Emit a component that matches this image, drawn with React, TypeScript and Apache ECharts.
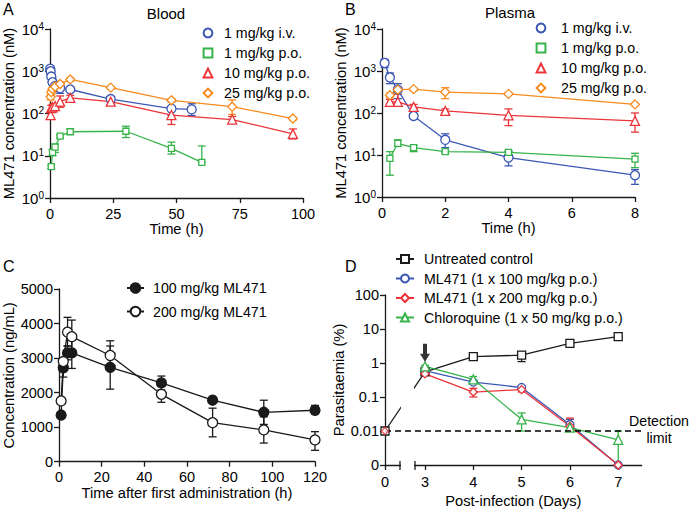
import React, { useEffect, useRef } from 'react';
import * as echarts from 'echarts';

// ---------- Panel A: Blood ----------
const bloodIvT = [0.083, 0.25, 0.5, 1, 2, 4, 8, 24, 48, 56];
const bloodIv = [1150, 1000, 750, 550, 450, 400, 370, 220, 130, 125];
const bloodIvLo = [950, 850, 560, 380, 330, 300, 330, 190, 90, 90];
const bloodIvHi = [1300, 1150, 950, 700, 560, 520, 420, 250, 190, 170];

const bloodPo1T = [0.5, 1, 2, 4, 8, 30, 48, 60];
const bloodPo1 = [5.5, 12, 16, 29, 37, 38, 15, 7];
const bloodPo1Lo = [5, 10, 12, 27, 32, 27, 11, 7];
const bloodPo1Hi = [6, 14, 19, 31, 43, 50, 21, 17];

const bloodPo10T = [0.25, 0.5, 1, 2, 4, 8, 24, 48, 72, 96];
const bloodPo10 = [92, 135, 140, 150, 190, 235, 190, 92, 72, 33];
const bloodPo10Lo = [75, 120, 125, 120, 140, 200, 165, 55, 60, 25];
const bloodPo10Hi = [110, 155, 165, 170, 260, 270, 230, 140, 85, 43];

const bloodPo25T = [0.25, 0.5, 1, 2, 4, 8, 24, 48, 72, 96];
const bloodPo25 = [250, 320, 380, 430, 500, 640, 410, 205, 145, 76];
const bloodPo25Lo = [210, 280, 340, 390, 450, 590, 380, 190, 95, 70];
const bloodPo25Hi = [270, 360, 420, 470, 560, 700, 430, 225, 210, 80];

// ---------- Panel B: Plasma ----------
const plasmaIvT = [0.083, 0.25, 0.5, 1, 2, 4, 8];
const plasmaIv = [1550, 700, 360, 85, 23, 8.7, 3.3];
const plasmaIvLo = [1200, 500, 220, 75, 15, 5.5, 2];
const plasmaIvHi = [1900, 900, 500, 95, 32, 12, 4.5];

const plasmaPoT = [0.25, 0.5, 1, 2, 4, 8];
const plasmaPo1 = [8.3, 19, 15, 12, 11.5, 8];
const plasmaPo1Lo = [3.3, 16, 12, 11, 10, 5];
const plasmaPo1Hi = [12, 23, 17, 12.5, 12.5, 11];
const plasmaPo10 = [185, 185, 140, 112, 88, 65];
const plasmaPo10Lo = [170, 170, 125, 100, 50, 35];
const plasmaPo10Hi = [210, 280, 160, 125, 125, 100];
const plasmaPo25 = [265, 360, 370, 315, 285, 160];
const plasmaPo25Lo = [230, 330, 340, 220, 270, 150];
const plasmaPo25Hi = [300, 400, 390, 400, 310, 170];

// ---------- Panel C ----------
const cTime = [1, 2, 4, 6, 24, 48, 72, 96, 120];
const c100 = [1350, 2720, 3150, 3150, 2730, 2280, 1780, 1430, 1490];
const c100Lo = [1300, 2450, 2950, 2700, 2100, 2080, 1720, 1080, 1380];
const c100Hi = [1400, 2950, 3350, 3600, 3350, 2480, 1840, 1780, 1630];
const c200 = [1760, 2900, 3750, 3620, 3075, 1950, 1130, 920, 630];
const c200Lo = [1700, 2850, 3350, 3150, 2650, 1720, 720, 540, 330];
const c200Hi = [1820, 2950, 4180, 4100, 3500, 2180, 1550, 1300, 870];

// ---------- Panel D ----------
const dCtrlDays = [0, 3, 4, 5, 6, 7];
const dCtrl = [0.01, 0.55, 1.55, 1.7, 3.8, 6.0];
const dCtrlLo = [0.01, 0.5, 1.45, 1.1, 3.6, 5.7];
const dCtrlHi = [0.01, 0.6, 1.65, 2.1, 4.0, 6.3];
const dTreatDays = [3, 4, 5, 6, 7];
const dMl100 = [0.6, 0.275, 0.19, 0.0155, 0];
const dMl100Lo = [0.55, 0.25, 0.17, 0.011, 0];
const dMl100Hi = [0.65, 0.3, 0.21, 0.022, 0];
const dMl200 = [0.48, 0.14, 0.165, 0.0138, 0];
const dMl200Lo = [0.45, 0.1, 0.14, 0.01, 0];
const dMl200Hi = [0.5, 0.18, 0.19, 0.024, 0];
const dMl200Day0 = [0.01];
const dCq = [0.8, 0.33, 0.022, 0.0125, 0.0055];
const dCqLo = [0.75, 0.3, 0.01, 0.011, 0];
const dCqHi = [0.85, 0.4, 0.034, 0.014, 0.01];
const dDetectionLimit = 0.01;
const dArrow = [3, 2];

const yLogTicksA = [1, 10, 100, 1000, 10000];

const FONT = 'Liberation Sans, Arial, Helvetica, sans-serif';
const BLUE = '#3c58b4';
const GREEN = '#36b34a';
const RED = '#ec3338';
const ORANGE = '#f68b1f';
const INK = '#1a1a1a';

// broken axis mapping for panel D
const D_ZERO = 2.172;
const BREAK_A = 2.482;
const BREAK_B = 2.793;
const D_MAX = 7.486;
const LOG_ZERO = 0.001;
const toU = (d: number) => (d === 0 ? D_ZERO : d);
const toY = (v: number) => (v === 0 ? LOG_ZERO : v);

function pairs(xs: number[], ys: number[]) {
  return xs.map((x, i) => [x, ys[i]]);
}

function errSeries(idx: number, xs: number[], lo: number[], hi: number[], color: string, cap: number) {
  return {
    type: 'custom',
    xAxisIndex: idx,
    yAxisIndex: idx,
    silent: true,
    z: 2,
    encode: { x: 0, y: [1, 2] },
    data: xs.map((x, i) => [x, lo[i], hi[i]]),
    renderItem: (params: any, api: any) => {
      const x = api.value(0);
      const a = api.coord([x, api.value(1)]);
      const b = api.coord([x, api.value(2)]);
      const st = { stroke: color, lineWidth: 1.3, fill: null };
      return {
        type: 'group',
        children: [
          { type: 'line', shape: { x1: a[0], y1: a[1], x2: b[0], y2: b[1] }, style: st },
          { type: 'line', shape: { x1: a[0] - cap, y1: a[1], x2: a[0] + cap, y2: a[1] }, style: st },
          { type: 'line', shape: { x1: b[0] - cap, y1: b[1], x2: b[0] + cap, y2: b[1] }, style: st },
        ],
      };
    },
  };
}

function lineSeries(name: string, idx: number, data: number[][], color: string, symbol: string, size: number, fill = '#fff') {
  return {
    type: 'line',
    name,
    xAxisIndex: idx,
    yAxisIndex: idx,
    data,
    z: 3,
    symbol,
    symbolSize: size,
    showAllSymbol: true,
    clip: false,
    lineStyle: { color, width: 1.3 },
    itemStyle: { color: fill, borderColor: color, borderWidth: 1.3 },
    emphasis: { disabled: true },
  };
}

const logFmt = (v: number) => {
  const e = Math.round(Math.log10(v));
  return `{a|10}{b|${e}}`;
};

const TITLE_SIZE = 14.7;
const axisBase = {
  axisLine: { show: true, lineStyle: { color: INK, width: 1.3 } },
  axisTick: { show: true, length: 5, lineStyle: { color: INK, width: 1.3 } },
  splitLine: { show: false },
  nameTextStyle: { color: '#000', fontSize: TITLE_SIZE, fontFamily: FONT },
};
const labelBase = { color: '#000', fontSize: 14.5, fontFamily: FONT };

function logYAxis(idx: number) {
  return {
    ...axisBase,
    gridIndex: idx,
    type: 'log',
    logBase: 10,
    min: yLogTicksA[0],
    max: yLogTicksA[yLogTicksA.length - 1],
    name: 'ML471 concentration (nM)',
    nameLocation: 'middle',
    nameGap: 34,
    axisLabel: {
      ...labelBase,
      margin: 6,
      formatter: logFmt,
      rich: {
        a: { fontSize: 15, fontFamily: FONT, color: '#000', lineHeight: 16 },
        b: { fontSize: 10, fontFamily: FONT, color: '#000', lineHeight: 5, verticalAlign: 'top' },
      },
    },
  };
}

export default function App() {
  const ref = useRef<HTMLDivElement>(null);
  useEffect(() => {
    if (!ref.current) return;
    const chart = echarts.init(ref.current, undefined, { renderer: 'svg' });

    const legendText = { color: '#000', fontSize: 14.2, fontFamily: FONT, lineHeight: 14 };
    const abNames = ['1 mg/kg i.v.', '1 mg/kg p.o.', '10 mg/kg p.o.', '25 mg/kg p.o.'];

    const option: any = {
      animation: false,
      backgroundColor: '#fff',
      textStyle: { fontFamily: FONT },
      grid: [
        { left: 50, width: 253, top: 29, height: 169 },
        { left: 382, width: 253, top: 29, height: 168 },
        { left: 59, width: 256, top: 289, height: 172.7 },
        { left: 385, width: 256.7, top: 295, height: 170.7 },
      ],
      xAxis: [
        {
          ...axisBase, gridIndex: 0, type: 'value', min: 0, max: 100, interval: 25,
          name: 'Time (h)', nameLocation: 'middle', nameGap: 20,
          axisLabel: { ...labelBase, margin: 8 },
        },
        {
          ...axisBase, gridIndex: 1, type: 'value', min: 0, max: 8, interval: 2,
          name: 'Time (h)', nameLocation: 'middle', nameGap: 23,
          axisLabel: { ...labelBase, margin: 8 },
        },
        {
          ...axisBase, gridIndex: 2, type: 'value', min: 0, max: 120, interval: 20,
          name: 'Time after first administration (h)', nameLocation: 'middle', nameGap: 23,
          axisLabel: { ...labelBase, margin: 8 },
        },
        {
          ...axisBase, gridIndex: 3, type: 'value', min: D_ZERO, max: D_MAX,
          name: 'Post-infection (Days)', nameLocation: 'middle', nameGap: 28,
          axisTick: { ...axisBase.axisTick, customValues: [D_ZERO, 3, 4, 5, 6, 7] },
          axisLabel: {
            ...labelBase, margin: 9, customValues: [D_ZERO, 3, 4, 5, 6, 7],
            formatter: (v: number) => (Math.abs(v - D_ZERO) < 0.01 ? '0' : String(Math.round(v))),
          },
        },
      ],
      yAxis: [
        logYAxis(0),
        logYAxis(1),
        {
          ...axisBase, gridIndex: 2, type: 'value', min: 0, max: 5000, interval: 1000,
          name: 'Concentration (ng/mL)', nameLocation: 'middle', nameGap: 41,
          axisLabel: { ...labelBase, margin: 6, formatter: (v: number) => String(v) },
        },
        {
          ...axisBase, gridIndex: 3, type: 'log', logBase: 10, min: LOG_ZERO, max: 100,
          name: 'Parasitaemia (%)', nameLocation: 'middle', nameGap: 26,
          axisLabel: {
            ...labelBase, margin: 6,
            formatter: (v: number) => (v <= LOG_ZERO * 1.01 ? '0' : v >= 1 ? String(Math.round(v)) : String(Number(v.toPrecision(1)))),
          },
        },
      ],
      legend: [
        {
          data: abNames, orient: 'vertical', left: 191, top: 21, itemWidth: 22, itemHeight: 11, itemGap: 6,
          selectedMode: false, textStyle: legendText, lineStyle: { opacity: 0 },
        },
        {
          data: abNames, orient: 'vertical', left: 524, top: 16, itemWidth: 22, itemHeight: 11, itemGap: 6,
          selectedMode: false, textStyle: { ...legendText, padding: [0, 0, 0, 4] }, lineStyle: { opacity: 0 },
        },
        {
          data: ['100 mg/kg ML471', '200 mg/kg ML471'], orient: 'vertical', left: 121, top: 276,
          itemWidth: 17, itemHeight: 12, itemGap: 9.5, selectedMode: false,
          textStyle: { ...legendText, padding: [0, 0, 0, 4] },
        },
        {
          data: ['Untreated control', 'ML471 (1 x 100 mg/kg p.o.)', 'ML471 (1 x 200 mg/kg p.o.)', 'Chloroquine (1 x 50 mg/kg p.o.)'],
          orient: 'vertical', left: 390, top: 247, itemWidth: 18, itemHeight: 10, itemGap: 5.5, selectedMode: false,
          textStyle: { ...legendText, padding: [0, 0, 0, 5] },
        },
      ],
      graphic: [
        { type: 'text', left: 3, top: 1, style: { text: 'A', fontSize: 16, fontFamily: FONT, fill: '#000' } },
        { type: 'text', left: 345, top: 1, style: { text: 'B', fontSize: 16, fontFamily: FONT, fill: '#000' } },
        { type: 'text', left: 3, top: 258, style: { text: 'C', fontSize: 16, fontFamily: FONT, fill: '#000' } },
        { type: 'text', left: 345, top: 258, style: { text: 'D', fontSize: 16, fontFamily: FONT, fill: '#000' } },
        { type: 'text', x: 166, y: 13, style: { text: 'Blood', fontSize: 15, fontFamily: FONT, fill: '#000', align: 'center', verticalAlign: 'middle' } },
        { type: 'text', x: 510, y: 12, style: { text: 'Plasma', fontSize: 15, fontFamily: FONT, fill: '#000', align: 'center', verticalAlign: 'middle' } },
        { type: 'text', x: 659, y: 421, style: { text: 'Detection', fontSize: 14.2, fontFamily: FONT, fill: '#000', align: 'center', verticalAlign: 'middle' } },
        { type: 'text', x: 659, y: 438, style: { text: 'limit', fontSize: 14.2, fontFamily: FONT, fill: '#000', align: 'center', verticalAlign: 'middle' } },
      ],
      series: [
        // Panel A
        errSeries(0, bloodIvT, bloodIvLo, bloodIvHi, BLUE, 4),
        errSeries(0, bloodPo1T, bloodPo1Lo, bloodPo1Hi, GREEN, 4),
        errSeries(0, bloodPo10T, bloodPo10Lo, bloodPo10Hi, RED, 4),
        errSeries(0, bloodPo25T, bloodPo25Lo, bloodPo25Hi, ORANGE, 4),
        lineSeries('1 mg/kg i.v.', 0, pairs(bloodIvT, bloodIv), BLUE, 'circle', 9),
        lineSeries('1 mg/kg p.o.', 0, pairs(bloodPo1T, bloodPo1), GREEN, 'rect', 6),
        lineSeries('10 mg/kg p.o.', 0, pairs(bloodPo10T, bloodPo10), RED, 'triangle', 9),
        lineSeries('25 mg/kg p.o.', 0, pairs(bloodPo25T, bloodPo25), ORANGE, 'diamond', 9),
        // Panel B
        errSeries(1, plasmaIvT, plasmaIvLo, plasmaIvHi, BLUE, 4),
        errSeries(1, plasmaPoT, plasmaPo1Lo, plasmaPo1Hi, GREEN, 4),
        errSeries(1, plasmaPoT, plasmaPo10Lo, plasmaPo10Hi, RED, 4),
        errSeries(1, plasmaPoT, plasmaPo25Lo, plasmaPo25Hi, ORANGE, 4),
        lineSeries('1 mg/kg i.v.', 1, pairs(plasmaIvT, plasmaIv), BLUE, 'circle', 9),
        lineSeries('1 mg/kg p.o.', 1, pairs(plasmaPoT, plasmaPo1), GREEN, 'rect', 6),
        lineSeries('10 mg/kg p.o.', 1, pairs(plasmaPoT, plasmaPo10), RED, 'triangle', 9),
        lineSeries('25 mg/kg p.o.', 1, pairs(plasmaPoT, plasmaPo25), ORANGE, 'diamond', 9),
        // Panel C
        errSeries(2, cTime, c100Lo, c100Hi, INK, 4),
        errSeries(2, cTime, c200Lo, c200Hi, INK, 4),
        lineSeries('100 mg/kg ML471', 2, pairs(cTime, c100), INK, 'circle', 10, INK),
        lineSeries('200 mg/kg ML471', 2, pairs(cTime, c200), INK, 'circle', 10),
        // Panel D
        errSeries(3, dCtrlDays.map(toU), dCtrlLo.map(toY), dCtrlHi.map(toY), INK, 4),
        errSeries(3, dTreatDays.map(toU), dMl100Lo.map(toY), dMl100Hi.map(toY), BLUE, 4),
        errSeries(3, dTreatDays.map(toU), dMl200Lo.map(toY), dMl200Hi.map(toY), RED, 4),
        errSeries(3, dTreatDays.map(toU), dCqLo.map(toY), dCqHi.map(toY), GREEN, 4),
        lineSeries('Untreated control', 3, pairs(dCtrlDays.map(toU), dCtrl.map(toY)), INK, 'rect', 8),
        lineSeries('ML471 (1 x 100 mg/kg p.o.)', 3, pairs(dTreatDays.map(toU), dMl100.map(toY)), BLUE, 'circle', 8),
        lineSeries('ML471 (1 x 200 mg/kg p.o.)', 3, pairs(dTreatDays.map(toU), dMl200.map(toY)), RED, 'diamond', 8),
        lineSeries('Chloroquine (1 x 50 mg/kg p.o.)', 3, pairs(dTreatDays.map(toU), dCq.map(toY)), GREEN, 'triangle', 9),
        {
          type: 'scatter', name: 'ml200-day0', xAxisIndex: 3, yAxisIndex: 3, z: 5,
          data: [[toU(0), dMl200Day0[0]]], symbol: 'diamond', symbolSize: 7,
          itemStyle: { color: '#fff', borderColor: RED, borderWidth: 1.3 }, silent: true,
        },
        // axis break cover + break ticks
        {
          type: 'custom', xAxisIndex: 3, yAxisIndex: 3, z: 4, silent: true,
          data: [[BREAK_A, BREAK_B, 1]],
          renderItem: (params: any, api: any) => {
            const cs = params.coordSys;
            const xa = api.coord([api.value(0), LOG_ZERO])[0];
            const xb = api.coord([api.value(1), LOG_ZERO])[0];
            const yt = api.coord([api.value(0), api.value(2)])[1];
            const yb = cs.y + cs.height;
            const st = { stroke: INK, lineWidth: 1.3 };
            return {
              type: 'group',
              children: [
                { type: 'rect', shape: { x: xa + 1, y: yt, width: xb - xa - 2, height: yb - yt + 2 }, style: { fill: '#fff' } },
                { type: 'line', shape: { x1: xa, y1: yb - 4, x2: xa, y2: yb + 5 }, style: st },
                { type: 'line', shape: { x1: xb, y1: yb - 4, x2: xb, y2: yb + 5 }, style: st },
              ],
            };
          },
        },
        // detection limit + treatment arrow
        {
          type: 'scatter', name: 'annot', xAxisIndex: 3, yAxisIndex: 3, z: 6, silent: true,
          data: [dArrow],
          symbol: 'path://M3,0 L7,0 L7,10 L10,10 L5,18 L0,10 L3,10 Z',
          symbolSize: [10, 18],
          itemStyle: { color: '#000' },
          markLine: {
            silent: true, symbol: ['none', 'none'],
            label: { show: false },
            lineStyle: { color: '#000', type: [6, 4], width: 1.6 },
            data: [{ yAxis: dDetectionLimit }],
          },
        },
      ],
    };
    chart.setOption(option);
    return () => chart.dispose();
  }, []);
  return <div ref={ref} style={{ width: 689, height: 509, position: 'absolute', left: 0, top: 0 }} />;
}
